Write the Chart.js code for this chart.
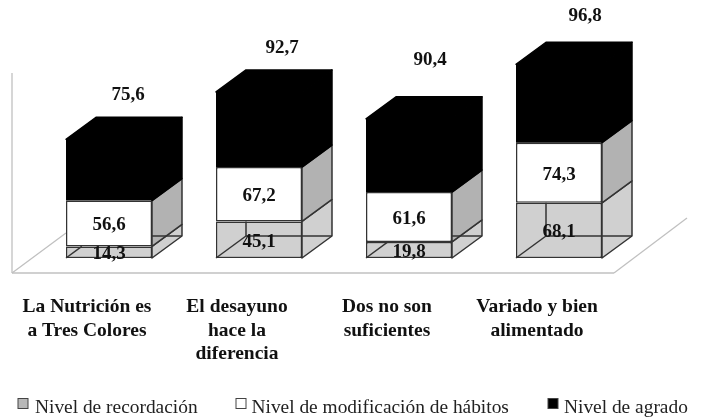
<!DOCTYPE html>
<html>
<head>
<meta charset="utf-8">
<style>
body { margin: 0; background: #fff; }
canvas { display: block; }
</style>
<script src="https://cdn.jsdelivr.net/npm/chart.js@4"></script>
</head>
<body>
<canvas id="myChart" width="702" height="418"></canvas>
<script>
var categories = [
  ["La Nutrición es", "a Tres Colores"],
  ["El desayuno", "hace la", "diferencia"],
  ["Dos no son", "suficientes"],
  ["Variado y bien", "alimentado"]
];
var recordacion = [14.3, 45.1, 19.8, 68.1];
var modificacion = [56.6, 67.2, 61.6, 74.3];
var agrado = [75.6, 92.7, 90.4, 96.8];
var seriesNames = ["Nivel de recordación", "Nivel de modificación de hábitos", "Nivel de agrado"];
var frontColors = ["#d0d0d0", "#ffffff", "#000000"];
var sideColors = ["#d0d0d0", "#b2b2b2", "#000000"];
var legendColors = ["#b8b8b8", "#ffffff", "#000000"];

var edge = "#333333";
var depthX = 30, depthY = -22;
var serif = "'Liberation Serif', serif";
// the agrado labels float above the bars, each one a bit differently
var topLabelShift = [[19, -44], [23, -44], [21, -59], [26, -48]];
var legendBoxX = [18, 236, 548];
var legendTextX = [35, 251.5, 564];

function poly(ctx, pts, fill) {
  ctx.beginPath();
  ctx.moveTo(pts[0][0], pts[0][1]);
  for (var i = 1; i < pts.length; i++) ctx.lineTo(pts[i][0], pts[i][1]);
  ctx.closePath();
  ctx.fillStyle = fill;
  ctx.fill();
  ctx.stroke();
}

function line(ctx, x1, y1, x2, y2) {
  ctx.beginPath();
  ctx.moveTo(x1, y1);
  ctx.lineTo(x2, y2);
  ctx.stroke();
}

var floorPlugin = {
  id: "floor",
  beforeDatasetsDraw: function (chart) {
    var ctx = chart.ctx;
    var y0 = chart.scales.y.getPixelForValue(0) + 15;
    ctx.save();
    ctx.strokeStyle = "#c0c0c0";
    ctx.lineWidth = 1.3;
    line(ctx, 12, 73, 12, y0);
    line(ctx, 12, y0, 614, y0);
    line(ctx, 12, y0, 66, y0 - 40);
    line(ctx, 614, y0, 687, y0 - 55);
    ctx.restore();
  }
};

var boxPlugin = {
  id: "box3d",
  afterDatasetsDraw: function (chart) {
    var ctx = chart.ctx;
    ctx.save();
    ctx.lineWidth = 1.5;
    ctx.lineJoin = "round";
    for (var s = 0; s < 3; s++) {
      ctx.strokeStyle = s == 2 ? "#000000" : edge;
      chart.getDatasetMeta(s).data.forEach(function (bar) {
        var right = bar.x + bar.width / 2, left = bar.x - bar.width / 2;
        poly(ctx, [[right, bar.y], [right + depthX, bar.y + depthY],
          [right + depthX, bar.base + depthY], [right, bar.base]], sideColors[s]);
        if (s == 2) {
          poly(ctx, [[left, bar.y], [left + depthX, bar.y + depthY],
            [right + depthX, bar.y + depthY], [right, bar.y]], "#000000");
        }
      });
    }
    // the gray block is see-through, its hidden edges show on top
    ctx.strokeStyle = edge;
    chart.getDatasetMeta(0).data.forEach(function (bar) {
      var left = bar.x - bar.width / 2, right = bar.x + bar.width / 2;
      var backLeft = left + depthX, backY = bar.base + depthY;
      var h = bar.base - bar.y;
      if (h > -depthY) {
        line(ctx, left, bar.base, backLeft, backY);
        line(ctx, backLeft, backY, backLeft, bar.y);
        line(ctx, backLeft, backY, right + depthX, backY);
      } else {
        line(ctx, left, bar.base, left + depthX * h / -depthY, bar.y);
        line(ctx, right, backY, right + depthX, backY);
      }
    });
    ctx.restore();
  }
};

var valuePlugin = {
  id: "valueLabels",
  afterDraw: function (chart) {
    var ctx = chart.ctx;
    ctx.save();
    ctx.fillStyle = "#111111";
    ctx.textAlign = "center";
    ctx.textBaseline = "middle";
    ctx.font = "bold 19px " + serif;
    for (var s = 0; s < 3; s++) {
      chart.getDatasetMeta(s).data.forEach(function (bar, i) {
        var text = chart.data.datasets[s].data[i].toFixed(1).replace(".", ",");
        if (s == 2) {
          ctx.fillText(text, bar.x + topLabelShift[i][0], bar.y + topLabelShift[i][1]);
        } else {
          ctx.fillText(text, bar.x, (bar.y + bar.base) / 2 + 2);
        }
      });
    }
    // legend, the built in one leaves too much room after the box
    ctx.textAlign = "left";
    ctx.font = "19.4px " + serif;
    seriesNames.forEach(function (name, i) {
      ctx.fillStyle = legendColors[i];
      ctx.strokeStyle = "#444444";
      ctx.lineWidth = 1;
      ctx.fillRect(legendBoxX[i], 398.5, 10, 10);
      ctx.strokeRect(legendBoxX[i], 398.5, 10, 10);
      ctx.fillStyle = "#222222";
      ctx.fillText(name, legendTextX[i], 407.5);
    });
    ctx.restore();
  }
};

new Chart("myChart", {
  type: "bar",
  data: {
    labels: categories.map(function (c) { return c.join(" "); }),
    datasets: [
      { label: seriesNames[0], data: recordacion, backgroundColor: frontColors[0], borderColor: edge, borderWidth: 1.5 },
      { label: seriesNames[1], data: modificacion, backgroundColor: frontColors[1], borderColor: edge, borderWidth: 1.5 },
      { label: seriesNames[2], data: agrado, backgroundColor: frontColors[2], borderWidth: 0 }
    ]
  },
  options: {
    responsive: false,
    animation: false,
    layout: { padding: { left: 34, right: 68, top: 15, bottom: 0 } },
    datasets: {
      bar: {
        borderSkipped: false,
        categoryPercentage: 1,
        barPercentage: 0.5733
      }
    },
    plugins: { legend: { display: false }, tooltip: { enabled: false } },
    scales: {
      x: { stacked: true, display: false },
      y: { stacked: true, display: false, min: 0, max: 300 },
      // category text sits further left than the bars, so it gets its own axis
      x2: {
        type: "linear",
        position: "bottom",
        offset: false,
        bounds: "data",
        min: -0.3533,
        max: 3.6467,
        grid: { display: false },
        border: { display: false },
        afterBuildTicks: function (axis) {
          axis.ticks = categories.map(function (c, i) { return { value: i }; });
        },
        afterFit: function (axis) {
          axis.height = 160;
          axis.paddingLeft = 0;
          axis.paddingRight = 0;
        },
        ticks: {
          autoSkip: false,
          maxRotation: 0,
          padding: 29.5,
          color: "#111111",
          font: { family: serif, weight: "bold", size: 19.5, lineHeight: 1.205 },
          callback: function (value) { return categories[value]; }
        }
      }
    }
  },
  plugins: [floorPlugin, boxPlugin, valuePlugin]
});
</script>
</body>
</html>
